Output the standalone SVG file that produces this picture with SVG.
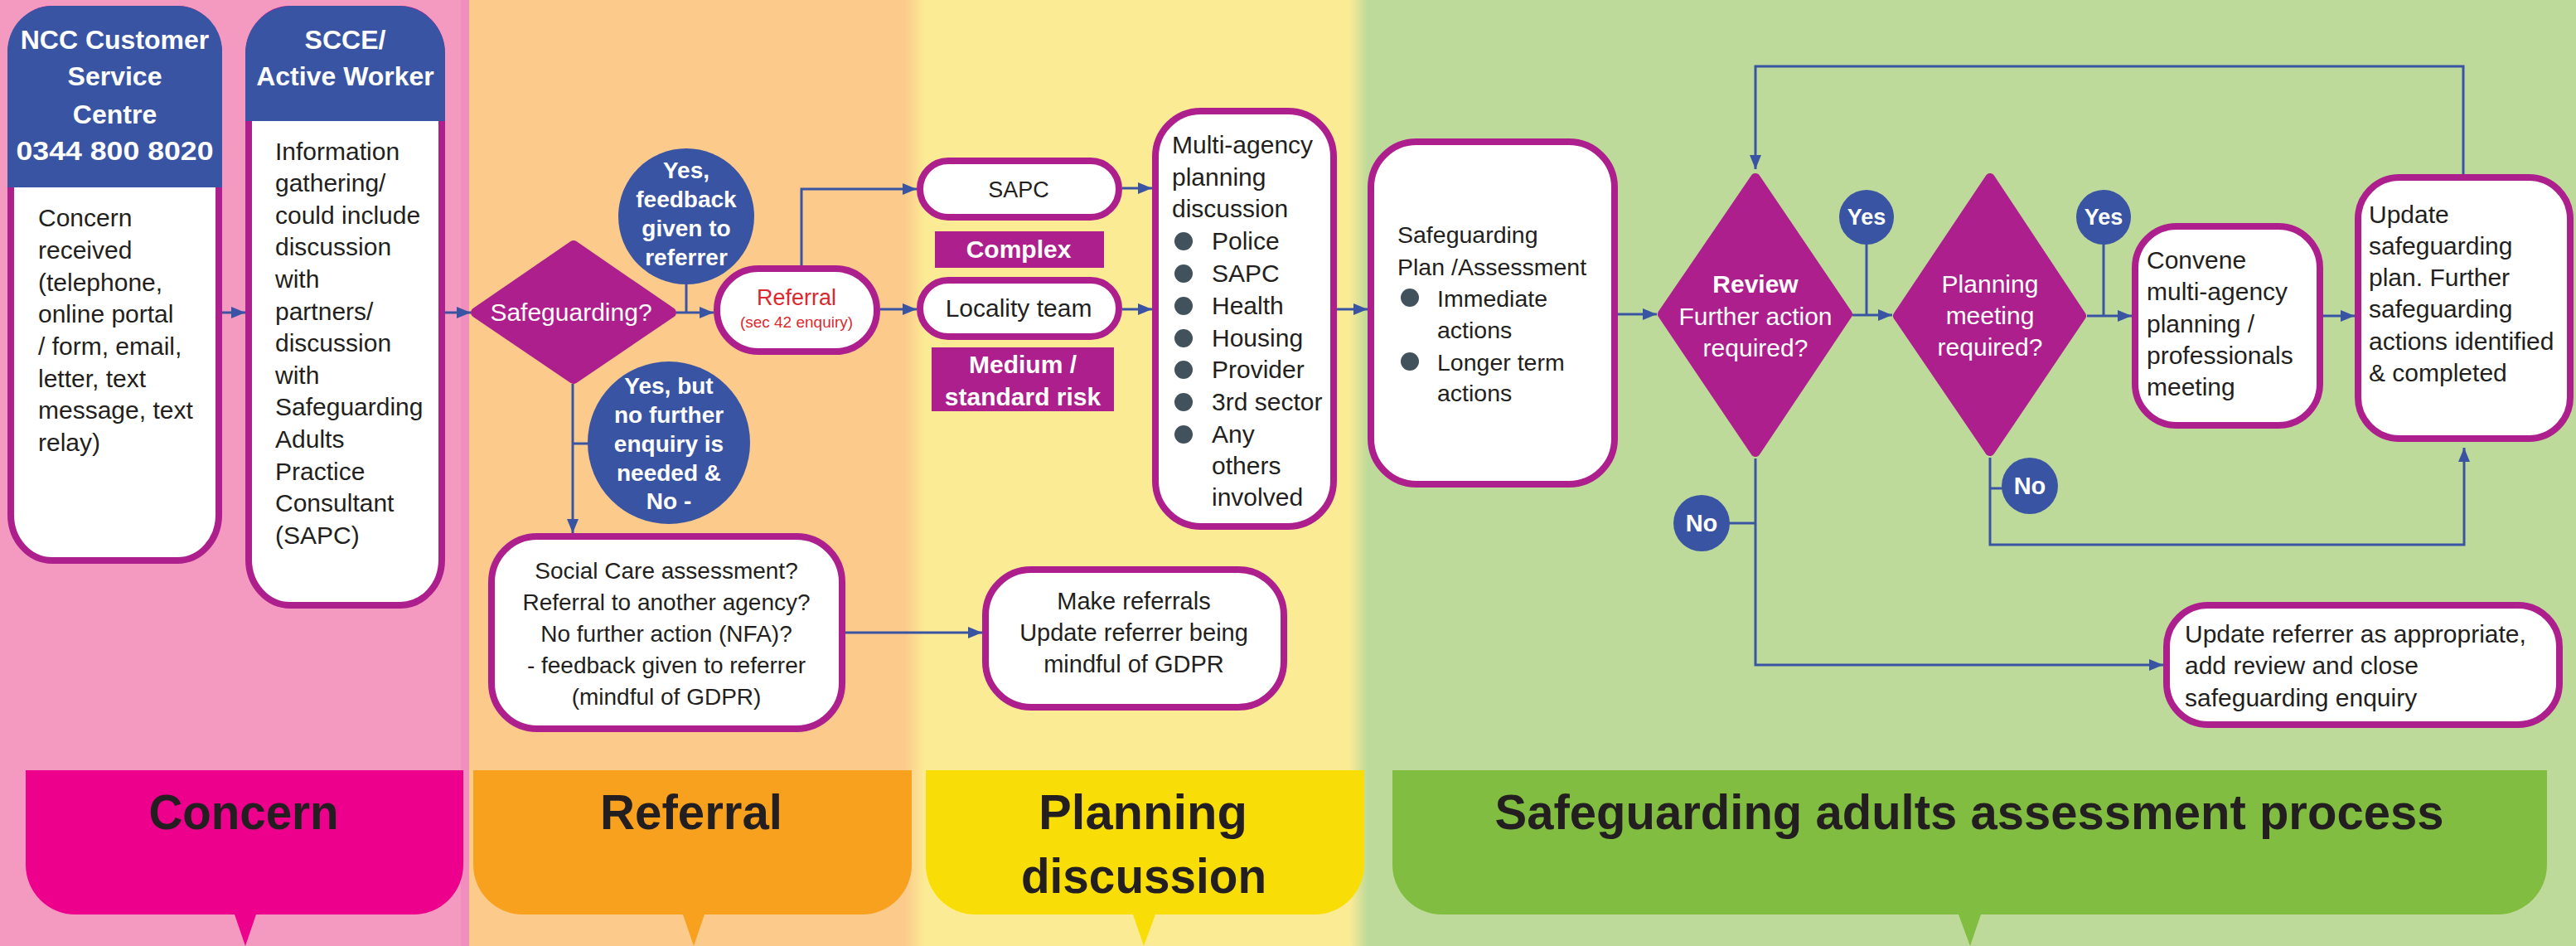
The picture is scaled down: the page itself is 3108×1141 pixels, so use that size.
<svg xmlns="http://www.w3.org/2000/svg" width="3108" height="1141" viewBox="0 0 3108 1141">
<defs>
<style>
.box{fill:#fff;stroke:#AD1F8C;stroke-width:8}
.dia{fill:#AD1F8C;stroke:#AD1F8C;stroke-width:12;stroke-linejoin:round}
.circ{fill:#3A54A4}
.hdr{fill:#3A54A4}
.tag{fill:#AD1F8C}
.conn{fill:none;stroke:#3A54A4;stroke-width:3}
.t{font-family:"Liberation Sans",Arial,sans-serif;fill:#231F20}
.w{fill:#fff}
.b{font-weight:bold}
.m{text-anchor:middle}
.bul{fill:#42525D}
.big{font-family:"Liberation Sans",Arial,sans-serif;font-weight:bold;font-size:60px;fill:#231F20;text-anchor:middle}
</style>
<marker id="ah" markerUnits="userSpaceOnUse" markerWidth="17" markerHeight="14" refX="17" refY="7" orient="auto">
<path d="M0,0 L17,7 L0,14 Z" fill="#3A54A4"/>
</marker>
<linearGradient id="g1" x1="0" x2="1" y1="0" y2="0"><stop offset="0" stop-color="#FCCB8C"/><stop offset="1" stop-color="#FCEB95"/></linearGradient>
<linearGradient id="g2" x1="0" x2="1" y1="0" y2="0"><stop offset="0" stop-color="#FCEB95"/><stop offset="1" stop-color="#BEDA9A"/></linearGradient>
</defs>

<g id="background">
<rect x="0" y="0" width="566" height="1141" fill="#F49AC1"/>
<rect x="556" y="0" width="10" height="1141" fill="#F08FBD"/>
<rect x="566" y="0" width="546" height="1141" fill="#FCCB8C"/>
<rect x="1112" y="0" width="536" height="1141" fill="#FCEB95"/>
<rect x="1092" y="0" width="24" height="1141" fill="url(#g1)"/>
<rect x="1648" y="0" width="1460" height="1141" fill="#BEDA9A"/>
<rect x="1628" y="0" width="22" height="1141" fill="url(#g2)"/>
</g>

<g id="stage-concern">
<path d="M31,929 H559 V1043 A60,60 0 0 1 499,1103 H309 L296,1141 L283,1103 H91 A60,60 0 0 1 31,1043 Z" fill="#EC008C"/>
<text class="big" x="294" y="1000" textLength="229" lengthAdjust="spacingAndGlyphs">Concern</text>
</g>
<g id="stage-referral">
<path d="M571,929 H1100 V1043 A60,60 0 0 1 1040,1103 H850 L837,1141 L824,1103 H631 A60,60 0 0 1 571,1043 Z" fill="#F7A11F"/>
<text class="big" x="834" y="1000" textLength="220" lengthAdjust="spacingAndGlyphs">Referral</text>
</g>
<g id="stage-planning">
<path d="M1117,929 H1646 V1043 A60,60 0 0 1 1586,1103 H1394 L1380,1141 L1367,1103 H1177 A60,60 0 0 1 1117,1043 Z" fill="#F9DD06"/>
<text class="big" x="1379" y="1000" textLength="252" lengthAdjust="spacingAndGlyphs">Planning</text>
<text class="big" x="1380" y="1077" textLength="296" lengthAdjust="spacingAndGlyphs">discussion</text>
</g>
<g id="stage-safeguarding">
<path d="M1680,929 H3073 V1043 A60,60 0 0 1 3013,1103 H2390 L2377,1141 L2363,1103 H1740 A60,60 0 0 1 1680,1043 Z" fill="#80BD41"/>
<text class="big" x="2376" y="1000" textLength="1145" lengthAdjust="spacingAndGlyphs">Safeguarding adults assessment process</text>
</g>

<g id="connectors">
<line class="conn" x1="268" y1="377" x2="296" y2="377" marker-end="url(#ah)"/>
<line class="conn" x1="537" y1="377" x2="568" y2="377" marker-end="url(#ah)"/>
<line class="conn" x1="816" y1="377" x2="861" y2="377" marker-end="url(#ah)"/>
<line class="conn" x1="828" y1="340" x2="828" y2="377"/>
<polyline class="conn" points="967,320 967,228 1106,228" marker-end="url(#ah)"/>
<line class="conn" x1="1062" y1="373" x2="1106" y2="373" marker-end="url(#ah)"/>
<line class="conn" x1="691" y1="463" x2="691" y2="643" marker-end="url(#ah)"/>
<line class="conn" x1="691" y1="535" x2="710" y2="535"/>
<line class="conn" x1="1020" y1="763" x2="1185" y2="763" marker-end="url(#ah)"/>
<line class="conn" x1="1354" y1="227" x2="1390" y2="227" marker-end="url(#ah)"/>
<line class="conn" x1="1354" y1="373" x2="1390" y2="373" marker-end="url(#ah)"/>
<line class="conn" x1="1613" y1="373" x2="1650" y2="373" marker-end="url(#ah)"/>
<line class="conn" x1="1952" y1="379" x2="1999" y2="379" marker-end="url(#ah)"/>
<line class="conn" x1="2252" y1="292" x2="2252" y2="380"/>
<line class="conn" x1="2235" y1="380" x2="2283" y2="380" marker-end="url(#ah)"/>
<line class="conn" x1="2538" y1="292" x2="2538" y2="381"/>
<line class="conn" x1="2518" y1="381" x2="2572" y2="381" marker-end="url(#ah)"/>
<line class="conn" x1="2803" y1="381" x2="2841" y2="381" marker-end="url(#ah)"/>
<polyline class="conn" points="2972,210 2972,80 2118,80 2118,204" marker-end="url(#ah)"/>
<polyline class="conn" points="2118,553 2118,802 2610,802" marker-end="url(#ah)"/>
<line class="conn" x1="2085" y1="631" x2="2118" y2="631"/>
<polyline class="conn" points="2401,552 2401,657 2973,657 2973,540" marker-end="url(#ah)"/>
<line class="conn" x1="2401" y1="589" x2="2418" y2="589"/>
</g>

<g id="node-ncc">
<rect class="box" x="13" y="11" width="251" height="665" rx="50" ry="55"/>
<path class="hdr" d="M9,226 V62 A55,55 0 0 1 64,7 H213 A55,55 0 0 1 268,62 V226 Z"/>
<text class="t w b m" font-size="32"><tspan x="138.5" y="59">NCC Customer</tspan><tspan x="138.5" y="103">Service</tspan><tspan x="138.5" y="149">Centre</tspan><tspan x="138.5" y="193" textLength="238" lengthAdjust="spacingAndGlyphs">0344 800 8020</tspan></text>
<text class="t" font-size="30"><tspan x="46" y="273">Concern</tspan><tspan x="46" y="312">received</tspan><tspan x="46" y="351">(telephone,</tspan><tspan x="46" y="389">online portal</tspan><tspan x="46" y="428">/ form, email,</tspan><tspan x="46" y="467">letter, text</tspan><tspan x="46" y="505">message, text</tspan><tspan x="46" y="544">relay)</tspan></text>
</g>

<g id="node-scce">
<rect class="box" x="300" y="11" width="233" height="719" rx="50" ry="55"/>
<path class="hdr" d="M296,146 V64 A57,57 0 0 1 353,7 H480 A57,57 0 0 1 537,64 V146 Z"/>
<text class="t w b m" font-size="32"><tspan x="416.5" y="59">SCCE/</tspan><tspan x="416.5" y="103">Active Worker</tspan></text>
<text class="t" font-size="30"><tspan x="332" y="193">Information</tspan><tspan x="332" y="231">gathering/</tspan><tspan x="332" y="270">could include</tspan><tspan x="332" y="308">discussion</tspan><tspan x="332" y="347">with</tspan><tspan x="332" y="386">partners/</tspan><tspan x="332" y="424">discussion</tspan><tspan x="332" y="463">with</tspan><tspan x="332" y="501">Safeguarding</tspan><tspan x="332" y="540">Adults</tspan><tspan x="332" y="579">Practice</tspan><tspan x="332" y="617">Consultant</tspan><tspan x="332" y="656">(SAPC)</tspan></text>
</g>

<g id="node-safeguarding-decision">
<polygon class="dia" points="574,377 692,296 810,377 692,457"/>
<text class="t w m" font-size="30" x="689" y="387">Safeguarding?</text>
</g>

<g id="node-yes-feedback">
<circle class="circ" cx="828" cy="261" r="82"/>
<text class="t w b m" font-size="28"><tspan x="828" y="215">Yes,</tspan><tspan x="828" y="250">feedback</tspan><tspan x="828" y="285">given to</tspan><tspan x="828" y="320">referrer</tspan></text>
</g>

<g id="node-yes-no-further">
<circle class="circ" cx="807" cy="534" r="98"/>
<text class="t w b m" font-size="28"><tspan x="807" y="475">Yes, but</tspan><tspan x="807" y="510">no further</tspan><tspan x="807" y="545">enquiry is</tspan><tspan x="807" y="580">needed &amp;</tspan><tspan x="807" y="614">No -</tspan></text>
</g>

<g id="node-referral">
<rect class="box" x="865" y="324" width="193" height="100" rx="50"/>
<text class="m" font-family="Liberation Sans, Arial, sans-serif" fill="#DA2A2F"><tspan x="961" y="368" font-size="27">Referral</tspan><tspan x="961" y="395" font-size="19">(sec 42 enquiry)</tspan></text>
</g>

<g id="node-social-care">
<rect class="box" x="593" y="647" width="423" height="232" rx="55"/>
<text class="t m" font-size="28"><tspan x="804" y="698">Social Care assessment?</tspan><tspan x="804" y="736">Referral to another agency?</tspan><tspan x="804" y="774">No further action (NFA)?</tspan><tspan x="804" y="812">- feedback given to referrer</tspan><tspan x="804" y="850">(mindful of GDPR)</tspan></text>
</g>

<g id="node-sapc">
<rect class="box" x="1110" y="194" width="240" height="68" rx="34"/>
<text class="t m" font-size="27" x="1229" y="238">SAPC</text>
</g>
<g id="tag-complex">
<rect class="tag" x="1128" y="279" width="204" height="44"/>
<text class="t w b m" font-size="30" x="1229" y="311">Complex</text>
</g>
<g id="node-locality">
<rect class="box" x="1110" y="338" width="240" height="68" rx="34"/>
<text class="t m" font-size="30" x="1229" y="382">Locality team</text>
</g>
<g id="tag-medium">
<rect class="tag" x="1124" y="419" width="220" height="77"/>
<text class="t w b m" font-size="30"><tspan x="1234" y="450">Medium /</tspan><tspan x="1234" y="489">standard risk</tspan></text>
</g>

<g id="node-multi-agency">
<rect class="box" x="1394" y="134" width="215" height="501" rx="55"/>
<text class="t" font-size="30"><tspan x="1414" y="185">Multi-agency</tspan><tspan x="1414" y="224">planning</tspan><tspan x="1414" y="262">discussion</tspan><tspan x="1462" y="301">Police</tspan><tspan x="1462" y="340">SAPC</tspan><tspan x="1462" y="379">Health</tspan><tspan x="1462" y="418">Housing</tspan><tspan x="1462" y="456">Provider</tspan><tspan x="1462" y="495">3rd sector</tspan><tspan x="1462" y="534">Any</tspan><tspan x="1462" y="572">others</tspan><tspan x="1462" y="610">involved</tspan></text>
<g class="bul"><circle cx="1428" cy="291" r="11"/><circle cx="1428" cy="330" r="11"/><circle cx="1428" cy="369" r="11"/><circle cx="1428" cy="408" r="11"/><circle cx="1428" cy="446" r="11"/><circle cx="1428" cy="485" r="11"/><circle cx="1428" cy="524" r="11"/></g>
</g>

<g id="node-make-referrals">
<rect class="box" x="1189" y="687" width="360" height="166" rx="55"/>
<text class="t m" font-size="29"><tspan x="1368" y="735">Make referrals</tspan><tspan x="1368" y="773">Update referrer being</tspan><tspan x="1368" y="811">mindful of GDPR</tspan></text>
</g>

<g id="node-plan">
<rect class="box" x="1654" y="171" width="294" height="413" rx="55"/>
<text class="t" font-size="28.5"><tspan x="1686" y="293">Safeguarding</tspan><tspan x="1686" y="332">Plan /Assessment</tspan><tspan x="1734" y="370">Immediate</tspan><tspan x="1734" y="408">actions</tspan><tspan x="1734" y="447">Longer term</tspan><tspan x="1734" y="484">actions</tspan></text>
<g class="bul"><circle cx="1701" cy="359" r="11"/><circle cx="1701" cy="436" r="11"/></g>
</g>

<g id="node-review">
<polygon class="dia" points="2006,379 2118,215 2229,379 2118,545"/>
<text class="t w m" font-size="30"><tspan x="2118" y="353" font-weight="bold">Review</tspan><tspan x="2118" y="392">Further action</tspan><tspan x="2118" y="430">required?</tspan></text>
</g>
<g id="node-yes-1">
<circle class="circ" cx="2252" cy="262" r="33"/>
<text class="t w b m" font-size="27" x="2252" y="271">Yes</text>
</g>
<g id="node-no-1">
<circle class="circ" cx="2053" cy="631" r="34"/>
<text class="t w b m" font-size="29" x="2053" y="641">No</text>
</g>

<g id="node-planning-meeting">
<polygon class="dia" points="2290,381 2401,215 2511,381 2401,544"/>
<text class="t w m" font-size="30"><tspan x="2401" y="353">Planning</tspan><tspan x="2401" y="391">meeting</tspan><tspan x="2401" y="429">required?</tspan></text>
</g>
<g id="node-yes-2">
<circle class="circ" cx="2538" cy="262" r="33"/>
<text class="t w b m" font-size="27" x="2538" y="271">Yes</text>
</g>
<g id="node-no-2">
<circle class="circ" cx="2449" cy="586" r="34"/>
<text class="t w b m" font-size="29" x="2449" y="596">No</text>
</g>

<g id="node-convene">
<rect class="box" x="2576" y="273" width="223" height="240" rx="50"/>
<text class="t" font-size="30"><tspan x="2590" y="324">Convene</tspan><tspan x="2590" y="362">multi-agency</tspan><tspan x="2590" y="401">planning /</tspan><tspan x="2590" y="439">professionals</tspan><tspan x="2590" y="477">meeting</tspan></text>
</g>

<g id="node-update-plan">
<rect class="box" x="2845" y="214" width="256" height="315" rx="50"/>
<text class="t" font-size="30"><tspan x="2858" y="269">Update</tspan><tspan x="2858" y="307">safeguarding</tspan><tspan x="2858" y="345">plan. Further</tspan><tspan x="2858" y="383">safeguarding</tspan><tspan x="2858" y="422">actions identified</tspan><tspan x="2858" y="460">&amp; completed</tspan></text>
</g>

<g id="node-update-referrer">
<rect class="box" x="2614" y="730" width="474" height="144" rx="50"/>
<text class="t" font-size="30"><tspan x="2636" y="775">Update referrer as appropriate,</tspan><tspan x="2636" y="813">add review and close</tspan><tspan x="2636" y="852">safeguarding enquiry</tspan></text>
</g>
</svg>
